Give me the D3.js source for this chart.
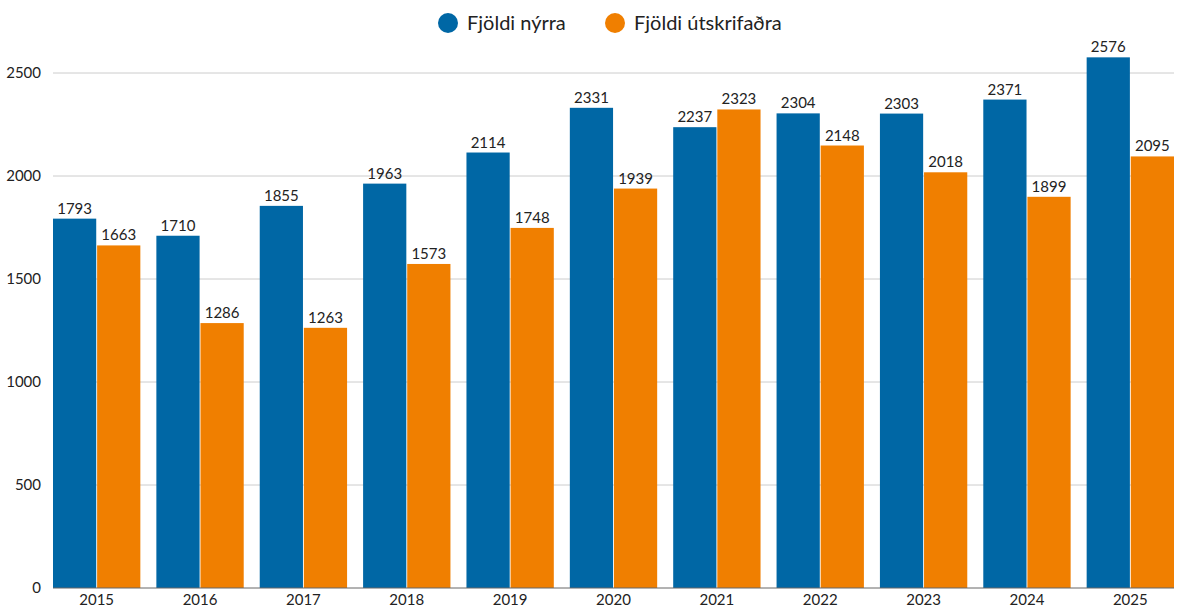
<!DOCTYPE html>
<html>
<head>
<meta charset="utf-8">
<script src="https://cdn.jsdelivr.net/npm/d3@7"></script>
<style>
  body { margin: 0; background: #fff; }
  svg text { font-family: Lato, 'Noto Sans', sans-serif; fill: #222; }
</style>
</head>
<body>
<svg id="chart" width="1180" height="610"></svg>
<script>
// data
var years = ['2015','2016','2017','2018','2019','2020','2021','2022','2023','2024','2025'];
var nyrra = [1793, 1710, 1855, 1963, 2114, 2331, 2237, 2304, 2303, 2371, 2576];
var utskrifadra = [1663, 1286, 1263, 1573, 1748, 1939, 2323, 2148, 2018, 1899, 2095];
var yTicks = [0, 500, 1000, 1500, 2000, 2500];
var seriesNames = ['Fjöldi nýrra', 'Fjöldi útskrifaðra'];
var colors = ['#0067a5', '#f07f00'];

var svg = d3.select('#chart');
var margin = { top: 52, right: 6, bottom: 22, left: 53 };
var width = 1180, height = 610;
var innerWidth = width - margin.left - margin.right;
var innerHeight = height - margin.top - margin.bottom;

var g = svg.append('g')
    .attr('transform', `translate(${margin.left}, ${margin.top})`);

var xScale = d3.scaleBand()
    .domain(years)
    .range([0, innerWidth])
    .paddingInner(0.155)
    .paddingOuter(0);

var xSub = d3.scaleBand()
    .domain([0, 1])
    .range([0, xScale.bandwidth()])
    .paddingInner(0.02);

// 0 -> 588, 2500 -> 73
var yScale = d3.scaleLinear()
    .domain([0, 2500])
    .range([innerHeight, innerHeight - 515]);

// grid lines
g.selectAll('.grid')
    .data(yTicks.filter(d => d > 0))
    .enter()
    .append('line')
    .attr('x1', 0)
    .attr('x2', innerWidth)
    .attr('y1', d => yScale(d))
    .attr('y2', d => yScale(d))
    .style('stroke', '#cccccc')
    .style('stroke-width', 1);

// y labels
g.selectAll('.ylab')
    .data(yTicks)
    .enter()
    .append('text')
    .attr('x', -12)
    .attr('y', d => yScale(d))
    .attr('dy', '0.35em')
    .style('text-anchor', 'end')
    .style('font-size', '15px')
    .text(d => d);

var series = [nyrra, utskrifadra];

series.forEach(function (vals, si) {
    var rows = years.map((y, i) => ({ year: y, value: vals[i] }));

    g.selectAll('.bar' + si)
        .data(rows)
        .enter()
        .append('rect')
        .attr('x', d => xScale(d.year) + xSub(si))
        .attr('y', d => yScale(d.value))
        .attr('width', xSub.bandwidth())
        .attr('height', d => innerHeight - yScale(d.value))
        .style('fill', colors[si]);

    g.selectAll('.lab' + si)
        .data(rows)
        .enter()
        .append('text')
        .attr('x', d => xScale(d.year) + xSub(si) + xSub.bandwidth() / 2)
        .attr('y', d => yScale(d.value) - 5)
        .style('text-anchor', 'middle')
        .style('font-size', '15px')
        .text(d => d.value);
});

// baseline
g.append('line')
    .attr('x1', 0)
    .attr('x2', innerWidth)
    .attr('y1', innerHeight)
    .attr('y2', innerHeight)
    .style('stroke', '#666')
    .style('stroke-width', 1);

// x labels
g.selectAll('.xlab')
    .data(years)
    .enter()
    .append('text')
    .attr('x', d => xScale(d) + xScale.bandwidth() / 2)
    .attr('y', innerHeight + 17)
    .style('text-anchor', 'middle')
    .style('font-size', '15px')
    .text(d => d);

// legend
var legendX = [448, 615];
seriesNames.forEach(function (name, i) {
    svg.append('circle')
        .attr('cx', legendX[i])
        .attr('cy', 23)
        .attr('r', 10)
        .style('fill', colors[i]);
    svg.append('text')
        .attr('x', legendX[i] + 19)
        .attr('y', 23)
        .attr('dy', '0.35em')
        .style('font-size', '20px')
        .text(name);
});
</script>
</body>
</html>
